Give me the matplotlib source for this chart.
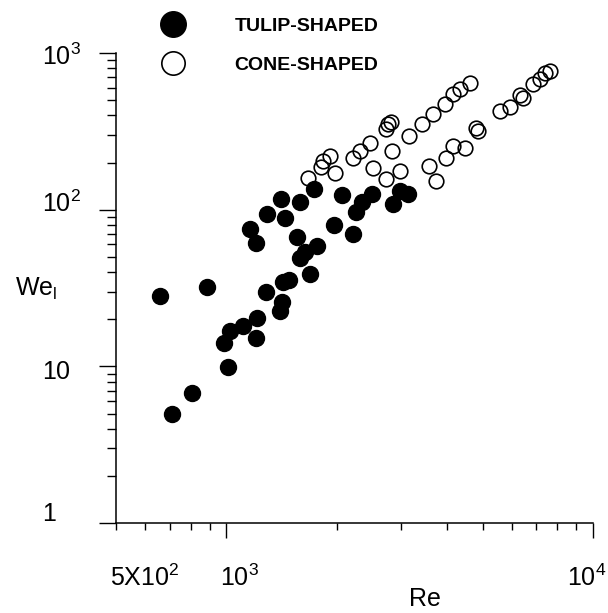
import matplotlib
matplotlib.use('Agg')
import matplotlib.pyplot as plt
from matplotlib.transforms import offset_copy
import numpy as np

plt.rcParams['font.family'] = ['Liberation Sans', 'DejaVu Sans']
plt.rcParams['mathtext.fontset'] = 'custom'
plt.rcParams['mathtext.rm'] = 'Liberation Sans'
plt.rcParams['mathtext.it'] = 'Liberation Sans:italic'

# tulip-shaped jets (Re, We_l)
tulip_re = [659, 711, 806, 886, 1010, 985, 1023, 1110, 1212, 1205, 1283, 1427,
            1482, 1418, 1401, 1160, 1205, 1291, 1410, 1445, 1588, 1734, 1558,
            1767, 1639, 1588, 1691, 2068, 1967, 2215, 2258, 2344, 2496, 2849,
            2977, 3130]
tulip_we = [28.3, 4.95, 6.73, 32.3, 9.85, 14.0, 16.7, 18.2, 20.5, 15.1, 30.0,
            34.8, 35.8, 25.6, 22.4, 75.7, 61.6, 94.3, 117.5, 88.9, 112.4, 136,
            67.3, 59.0, 54.0, 49.5, 39.1, 124.6, 80.2, 70.3, 97.1, 112.4, 126.5,
            109.2, 132.1, 126.5]

# cone-shaped jets (Re, We_l)
cone_re = [1670, 1813, 1835, 1917, 1979, 2215, 2315, 2466, 2726, 2761, 2813,
           3150, 3418, 3662, 3949, 4152, 4338, 4619,
           2512, 2726, 2977, 2831, 3571, 3732, 3975, 4152, 4477, 4797, 4858,
           5579, 5938, 6324, 6442, 6864, 7173, 7398, 7636]
cone_we = [160, 188, 205, 221, 172, 214, 238, 267, 328, 353, 364,
           296, 353, 409, 473, 548, 590, 644,
           185, 157, 177, 238, 191, 153, 214, 256, 248, 333, 319,
           427, 453, 540, 517, 635, 683, 746, 768]

# y tick labels: (value, text, vertical nudge in points)
ytick_vals = [1, 10, 100, 1000]
ytick_text = [r'$\mathregular{1}$', r'$\mathregular{10}$',
              r'$\mathregular{10^2}$', r'$\mathregular{10^3}$']
ytick_dy = [6.5, -4.3, 4.3, -2.5]

# x tick labels: (value, text, horizontal nudge in points)
xtick_vals = [500, 1000, 10000]
xtick_text = [r'$\mathregular{5X10^2}$', r'$\mathregular{10^3}$',
              r'$\mathregular{10^4}$']
xtick_dx = [-4.3, -4.3, -18.5]

fig = plt.figure(figsize=(6.08, 6.13), dpi=100)
ax = fig.add_axes([0.1908, 0.1468, 0.7845, 0.7667])

ax.plot(tulip_re, tulip_we, 'o', color='black', markersize=11.5,
        linestyle='none', label='TULIP-SHAPED', clip_on=False)
ax.plot(cone_re, cone_we, 'o', markerfacecolor='none', markeredgecolor='black',
        markeredgewidth=1.2, markersize=10.5, linestyle='none',
        label='CONE-SHAPED', clip_on=False)

ax.set_xscale('log')
ax.set_yscale('log')
ax.set_xlim(500, 10000)
ax.set_ylim(1, 1000)

for side in ['top', 'right']:
    ax.spines[side].set_visible(False)
for side in ['left', 'bottom']:
    ax.spines[side].set_linewidth(1.1)

ax.tick_params(which='major', direction='out', width=1.0)
ax.tick_params(axis='y', which='major', length=12)
ax.tick_params(axis='y', which='minor', length=6.5, width=1.0)
ax.tick_params(axis='x', which='major', length=11)
ax.tick_params(axis='x', which='minor', length=5, width=1.0)
ax.xaxis.set_ticklabels([], minor=False)
ax.xaxis.set_ticklabels([], minor=True)
ax.yaxis.set_ticklabels([], minor=False)
ax.yaxis.set_ticklabels([], minor=True)

for v, t, dy in zip(ytick_vals, ytick_text, ytick_dy):
    tr = offset_copy(ax.get_yaxis_transform(), fig, x=0, y=dy, units='points')
    ax.text(-0.155, v, t, transform=tr, ha='left', va='center', fontsize=18)

for v, t, dx in zip(xtick_vals, xtick_text, xtick_dx):
    tr = offset_copy(ax.get_xaxis_transform(), fig, x=dx, y=0, units='points')
    ax.text(v, -0.117, t, transform=tr, ha='left', va='center', fontsize=18,
            clip_on=False)

ax.text(0.648, -0.162, 'Re', transform=ax.transAxes, ha='center', va='center',
        fontsize=18)
ax.text(-0.212, 0.498, r'We$_\mathregular{l}$', transform=ax.transAxes,
        ha='left', va='center', fontsize=18)

leg = ax.legend(loc='upper left', bbox_to_anchor=(0.2607, 0.9715),
                bbox_transform=fig.transFigure, frameon=False, markerscale=1.6,
                handlelength=1.5, handletextpad=2.4, labelspacing=1.1,
                borderpad=0, borderaxespad=0,
                prop={'size': 14, 'weight': 'bold'})

fig.savefig('out.png', dpi=100)
